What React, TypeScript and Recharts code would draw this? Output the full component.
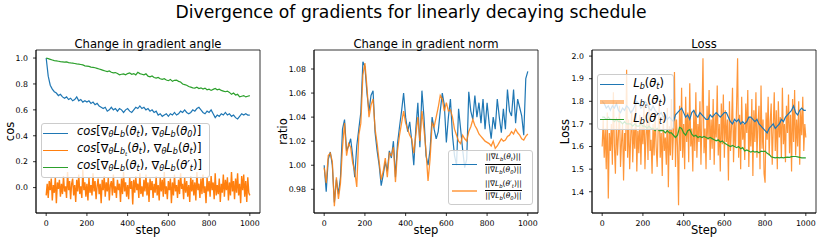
import React from 'react';
import { LineChart, Line, XAxis, YAxis, Legend, ReferenceArea } from 'recharts';

const FONT = '"DejaVu Sans", Verdana, sans-serif';
const BLUE = '#1f77b4';
const ORANGE = '#ff7f0e';
const GREEN = '#2ca02c';

const STEP_TICKS = [0, 200, 400, 600, 800, 1000];
const COS_TICKS = [0, 0.2, 0.4, 0.6, 0.8, 1.0];
const RATIO_TICKS = [0.98, 1.0, 1.02, 1.04, 1.06, 1.08];
const LOSS_TICKS = [1.4, 1.5, 1.6, 1.7, 1.8, 1.9, 2.0];

// cos to initial gradient, one value every 10 steps
const ANGLE_INIT = [
  1.00, 0.86, 0.79, 0.76, 0.74, 0.73, 0.71, 0.72, 0.70, 0.69,
  0.70, 0.68, 0.69, 0.67, 0.68, 0.70, 0.67, 0.68, 0.66, 0.67,
  0.66, 0.67, 0.65, 0.66, 0.64, 0.65, 0.63, 0.62, 0.61, 0.62,
  0.59, 0.60, 0.62, 0.60, 0.61, 0.59, 0.61, 0.60, 0.58, 0.60,
  0.61, 0.59, 0.58, 0.60, 0.62, 0.61, 0.63, 0.61, 0.62, 0.60,
  0.61, 0.59, 0.60, 0.58, 0.59, 0.56, 0.57, 0.55, 0.56, 0.57,
  0.55, 0.57, 0.56, 0.58, 0.56, 0.57, 0.59, 0.58, 0.60, 0.58,
  0.57, 0.58, 0.60, 0.59, 0.61, 0.62, 0.60, 0.58, 0.57, 0.59,
  0.58, 0.60, 0.57, 0.54, 0.56, 0.55, 0.57, 0.56, 0.58, 0.56,
  0.57, 0.55, 0.56, 0.54, 0.53, 0.55, 0.57, 0.56, 0.57, 0.56,
  0.56,
];

// cos between batch gradients, one value every 5 steps
const ANGLE_BATCH = [
  -0.06, 0.03, -0.08, 0.05, -0.02, 0.07, -0.10, 0.02, -0.04, 0.08,
  -0.12, 0.04, -0.01, 0.06, -0.07, 0.03, -0.05, 0.09, -0.03, 0.01,
  -0.08, 0.12, -0.02, 0.05, -0.09, 0.03, 0.07, -0.06, 0.02, -0.11,
  0.06, -0.03, 0.10, -0.05, 0.01, -0.08, 0.14, -0.02, 0.04, -0.07,
  0.03, -0.10, 0.08, -0.04, 0.02, -0.06, 0.11, -0.03, 0.05, -0.09,
  0.01, 0.07, -0.05, 0.03, -0.12, 0.06, -0.02, 0.09, -0.07, 0.04,
  -0.03, 0.08, -0.10, 0.02, 0.05, -0.06, 0.10, -0.04, 0.01, -0.08,
  0.06, -0.02, 0.03, -0.11, 0.07, -0.05, 0.12, -0.03, 0.04, -0.07,
  0.02, -0.09, 0.08, -0.01, 0.05, -0.13, 0.06, -0.04, 0.09, -0.02,
  0.03, -0.08, 0.11, -0.05, 0.01, -0.07, 0.06, -0.03, 0.10, -0.06,
  0.04, -0.11, 0.07, -0.02, 0.05, -0.08, 0.03, -0.04, 0.09, -0.06,
  0.02, -0.10, 0.08, -0.03, 0.06, -0.07, 0.12, -0.05, 0.01, -0.09,
  0.05, -0.02, 0.07, -0.12, 0.04, -0.06, 0.10, -0.03, 0.02, -0.08,
  0.06, -0.05, 0.11, -0.01, 0.03, -0.09, 0.08, -0.04, 0.05, -0.07,
  0.02, -0.11, 0.09, -0.03, 0.06, -0.06, 0.04, -0.10, 0.12, -0.02,
  0.03, -0.08, 0.07, -0.05, 0.10, -0.04, 0.01, -0.12, 0.08, -0.03,
  0.05, -0.07, 0.09, -0.02, 0.04, -0.09, 0.11, -0.06, 0.02, -0.05,
  0.07, -0.11, 0.03, -0.04, 0.10, -0.07, 0.06, -0.02, 0.08, -0.10,
  0.04, -0.06, 0.12, -0.03, 0.05, -0.09, 0.07, -0.04, 0.11, -0.06,
  0.03, -0.12, 0.09, -0.02, 0.10, -0.07, 0.05, -0.11, 0.08, -0.04,
  -0.06,
];

// cos to the theta' gradient, every 10 steps
const ANGLE_PRIME = [
  1.000, 0.995, 0.990, 0.985, 0.980, 0.978, 0.975, 0.972, 0.970, 0.968,
  0.970, 0.965, 0.962, 0.960, 0.958, 0.955, 0.953, 0.950, 0.947, 0.940,
  0.938, 0.935, 0.930, 0.928, 0.925, 0.920, 0.915, 0.910, 0.905, 0.900,
  0.895, 0.900, 0.890, 0.885, 0.888, 0.880, 0.870, 0.875, 0.878, 0.870,
  0.880, 0.885, 0.875, 0.880, 0.870, 0.890, 0.880, 0.875, 0.870, 0.878,
  0.860, 0.855, 0.862, 0.850, 0.845, 0.850, 0.840, 0.835, 0.840, 0.830,
  0.825, 0.835, 0.820, 0.828, 0.830, 0.820, 0.815, 0.800, 0.795, 0.790,
  0.780, 0.775, 0.770, 0.768, 0.775, 0.765, 0.770, 0.760, 0.768, 0.755,
  0.760, 0.750, 0.758, 0.765, 0.755, 0.760, 0.750, 0.745, 0.740, 0.745,
  0.735, 0.720, 0.730, 0.715, 0.720, 0.700, 0.705, 0.710, 0.700, 0.705,
  0.710,
];

// norm ratios, every 10 steps
const NORM_TRUE = [
  1.000, 0.978, 1.005, 1.011, 1.000, 0.969, 0.988, 0.976, 0.990, 1.030,
  1.038, 1.012, 1.016, 1.022, 1.008, 0.990, 1.016, 1.030, 1.044, 1.086,
  1.082, 1.060, 1.045, 1.058, 1.062, 1.027, 1.012, 1.000, 0.983, 0.992,
  1.003, 0.995, 1.012, 1.006, 1.020, 0.990, 1.018, 1.032, 1.045, 1.060,
  1.040, 1.028, 1.036, 1.020, 1.000, 1.030, 1.052, 1.015, 1.062, 1.040,
  1.008, 1.000, 1.013, 1.040, 1.030, 1.022, 1.028, 1.045, 1.060, 1.050,
  1.019, 1.040, 1.055, 1.025, 1.008, 1.000, 1.047, 1.030, 1.013, 0.998,
  1.005, 1.061, 1.045, 1.038, 1.058, 1.040, 1.052, 1.035, 1.055, 1.030,
  1.052, 1.035, 1.022, 1.040, 1.030, 1.055, 1.040, 1.027, 1.047, 1.030,
  1.063, 1.045, 1.041, 1.063, 1.035, 1.055, 1.048, 1.041, 1.025, 1.072,
  1.078,
];

const NORM_PRIME = [
  0.998, 0.985, 1.008, 1.010, 1.003, 0.966, 0.990, 0.972, 0.985, 1.015,
  1.035, 1.008, 1.018, 1.015, 1.002, 0.995, 0.982, 1.025, 1.035, 1.075,
  1.085, 1.065, 1.040, 1.050, 1.055, 1.030, 1.018, 1.003, 0.988, 0.995,
  1.006, 0.990, 1.010, 1.008, 1.015, 0.986, 1.012, 1.025, 1.035, 1.045,
  1.035, 1.030, 1.025, 1.022, 1.010, 1.025, 1.040, 1.020, 1.045, 1.030,
  1.012, 0.987, 1.005, 1.035, 1.032, 1.040, 1.048, 1.058, 1.055, 1.045,
  1.052, 1.045, 1.046, 1.040, 1.030, 1.025, 1.020, 1.018, 1.025, 1.022,
  1.020, 1.028, 1.032, 1.038, 1.033, 1.030, 1.026, 1.024, 1.022, 1.020,
  1.019, 1.018, 1.016, 1.020, 1.014, 1.016, 1.019, 1.022, 1.020, 1.021,
  1.024, 1.025, 1.028, 1.026, 1.030, 1.027, 1.025, 1.022, 1.021, 1.024,
  1.026,
];

// losses
const LOSS_FULL = [
  1.80, 1.79, 1.77, 1.78, 1.76, 1.78, 1.77, 1.79, 1.76, 1.75,
  1.77, 1.76, 1.78, 1.77, 1.75, 1.76, 1.78, 1.80, 1.79, 1.77,
  1.78, 1.80, 1.79, 1.77, 1.76, 1.78, 1.76, 1.75, 1.74, 1.75,
  1.73, 1.74, 1.72, 1.73, 1.72, 1.71, 1.74, 1.75, 1.76, 1.77,
  1.75, 1.73, 1.74, 1.72, 1.75, 1.76, 1.74, 1.73, 1.75, 1.74,
  1.73, 1.72, 1.72, 1.74, 1.73, 1.74, 1.75, 1.74, 1.73, 1.74,
  1.75, 1.75, 1.73, 1.71, 1.70, 1.72, 1.71, 1.72, 1.70, 1.71,
  1.70, 1.71, 1.73, 1.73, 1.72, 1.71, 1.72, 1.70, 1.69, 1.68,
  1.67, 1.66, 1.68, 1.69, 1.70, 1.68, 1.69, 1.70, 1.72, 1.71,
  1.73, 1.74, 1.75, 1.76, 1.78, 1.75, 1.74, 1.76, 1.77, 1.76,
  1.76,
];

// every 5 steps
const LOSS_BATCH = [
  1.60, 1.72, 1.55, 1.68, 1.50, 1.75, 1.37, 1.66, 1.58, 1.70,
  1.52, 1.84, 1.60, 1.48, 1.73, 1.56, 1.65, 1.78, 1.51, 1.62,
  1.70, 1.45, 1.66, 1.58, 1.94, 1.55, 1.72, 1.50, 1.64, 1.76,
  1.53, 1.68, 1.59, 1.80, 1.49, 1.67, 1.57, 1.74, 1.52, 1.69,
  1.61, 1.78, 1.50, 1.65, 1.72, 1.54, 1.82, 1.58, 1.63, 1.48,
  1.70, 1.56, 1.75, 1.60, 1.51, 1.68, 1.79, 1.55, 1.66, 1.47,
  1.73, 1.58, 1.64, 1.52, 1.77, 1.42, 1.69, 1.56, 1.81, 1.54,
  1.66, 1.93, 1.51, 1.72, 1.60, 1.34, 1.78, 1.58, 1.86, 1.55,
  1.70, 1.50, 1.82, 1.62, 1.75, 1.53, 1.88, 1.60, 1.68, 1.49,
  1.76, 1.58, 1.84, 1.55, 1.70, 1.62, 1.80, 1.52, 1.73, 1.99,
  1.57, 1.68, 1.50, 1.78, 1.63, 1.85, 1.54, 1.72, 1.59, 1.81,
  1.52, 1.74, 1.64, 1.87, 1.56, 1.70, 1.49, 1.79, 1.61, 1.83,
  1.55, 1.76, 1.62, 1.72, 1.45, 1.80, 1.58, 1.69, 1.86, 1.53,
  1.71, 1.60, 1.78, 1.99, 1.55, 1.74, 1.50, 1.82, 1.63, 1.70,
  1.54, 1.79, 1.66, 1.85, 1.51, 1.73, 1.60, 1.81, 1.47, 1.76,
  1.62, 1.84, 1.55, 1.70, 1.78, 1.50, 1.87, 1.59, 1.72, 1.48,
  1.44, 1.75, 1.63, 1.82, 1.56, 1.71, 1.79, 1.52, 1.68, 1.84,
  1.58, 1.76, 1.50, 1.80, 1.64, 1.73, 1.55, 1.86, 1.61, 1.70,
  1.53, 1.78, 1.66, 1.83, 1.57, 1.74, 1.49, 1.81, 1.62, 1.85,
  1.56, 1.72, 1.60, 1.80, 1.52, 1.76, 1.65, 1.82, 1.58, 1.70,
  1.64,
];

const LOSS_PRIME = [
  1.730, 1.730, 1.720, 1.730, 1.720, 1.720, 1.710, 1.720, 1.710, 1.710,
  1.700, 1.710, 1.700, 1.700, 1.700, 1.690, 1.700, 1.690, 1.690, 1.700,
  1.690, 1.690, 1.680, 1.690, 1.680, 1.680, 1.670, 1.680, 1.670, 1.670,
  1.670, 1.660, 1.670, 1.660, 1.660, 1.650, 1.640, 1.650, 1.685, 1.680,
  1.660, 1.650, 1.670, 1.675, 1.655, 1.645, 1.650, 1.640, 1.645, 1.640,
  1.645, 1.640, 1.635, 1.640, 1.635, 1.630, 1.625, 1.630, 1.620, 1.625,
  1.615, 1.610, 1.605, 1.600, 1.605, 1.600, 1.595, 1.600, 1.590, 1.595,
  1.580, 1.585, 1.580, 1.575, 1.580, 1.575, 1.578, 1.572, 1.580, 1.578,
  1.580, 1.570, 1.565, 1.555, 1.552, 1.550, 1.552, 1.550, 1.552, 1.550,
  1.552, 1.553, 1.552, 1.555, 1.556, 1.556, 1.554, 1.552, 1.550, 1.550,
  1.550,
];

type Pt = { step: number; v: number };
const pts = (vals: number[], every: number): Pt[] => vals.map((v, i) => ({ step: i * every, v }));

type Series = { name: string; data: Pt[]; color: string; width?: number; opacity?: number };

const I = ({ children }: { children: React.ReactNode }) => <span style={{ fontStyle: 'italic' }}>{children}</span>;
const Sub = ({ children }: { children: React.ReactNode }) => (
  <span style={{ fontSize: '0.7em', verticalAlign: '-0.3em', fontStyle: 'italic' }}>{children}</span>
);

const Box = ({ children, padY }: { children: React.ReactNode; padY: number }) => (
  <div
    style={{
      boxSizing: 'border-box',
      width: '100%',
      background: 'rgba(255,255,255,0.8)',
      border: '1px solid #cccccc',
      borderRadius: 3,
      padding: `${padY}px 0`,
      fontFamily: FONT,
      color: '#000',
    }}
  >
    {children}
  </div>
);

const Row = (p: {
  color: string; h: number; lineLeft: number; lineLen: number; gap: number;
  lw?: number; op?: number; fontSize: number; children: React.ReactNode;
}) => (
  <div style={{ display: 'flex', alignItems: 'center', height: p.h, whiteSpace: 'nowrap', fontSize: p.fontSize, lineHeight: 1 }}>
    <span style={{ display: 'inline-block', marginLeft: p.lineLeft, width: p.lineLen, borderTop: `${p.lw ?? 1.5}px solid ${p.color}`, opacity: p.op ?? 1 }} />
    <span style={{ marginLeft: p.gap }}>{p.children}</span>
  </div>
);

const Frac = ({ top, bottom }: { top: React.ReactNode; bottom: React.ReactNode }) => (
  <span style={{ display: 'inline-flex', flexDirection: 'column', alignItems: 'center', fontSize: 7.5, lineHeight: '9px' }}>
    <span>{top}</span>
    <span style={{ alignSelf: 'stretch', borderTop: '0.7px solid #000' }} />
    <span>{bottom}</span>
  </span>
);

const gradL = (
  <>∇<Sub>θ</Sub><I>L</I><Sub>b</Sub></>
);

const AngleLegend = () => (
  <Box padY={1}>
    <Row color={BLUE} h={17} lineLeft={1} lineLen={25.6} gap={8.7} fontSize={11.5}>
      <I>cos</I>[{gradL}(<I>θ</I><Sub>t</Sub>), {gradL}(<I>θ</I><Sub>0</Sub>)]
    </Row>
    <Row color={ORANGE} h={17} lineLeft={1} lineLen={25.6} gap={8.7} fontSize={11.5}>
      <I>cos</I>[∇<Sub>θ</Sub><I>L</I><Sub>b<Sub>t</Sub></Sub>(<I>θ</I><Sub>t</Sub>), {gradL}(<I>θ</I><Sub>t</Sub>)]
    </Row>
    <Row color={GREEN} h={17} lineLeft={1} lineLen={25.6} gap={8.7} fontSize={11.5}>
      <I>cos</I>[{gradL}(<I>θ</I><Sub>t</Sub>), {gradL}(<I>θ′</I><Sub>t</Sub>)]
    </Row>
  </Box>
);

const normOf = (arg: React.ReactNode) => (
  <>||∇<I>L</I><Sub>b</Sub>({arg})||</>
);

const NormLegend = () => (
  <Box padY={0}>
    <Row color={BLUE} h={26.5} lineLeft={3} lineLen={25} gap={8.3} fontSize={7.5}>
      <Frac top={normOf(<><I>θ</I><Sub>t</Sub></>)} bottom={normOf(<><I>θ</I><Sub>0</Sub></>)} />
    </Row>
    <Row color={ORANGE} h={26.5} lineLeft={3} lineLen={25} gap={8.3} fontSize={7.5} lw={2} op={0.6}>
      <Frac top={normOf(<><I>θ′</I><Sub>t</Sub></>)} bottom={normOf(<><I>θ</I><Sub>0</Sub></>)} />
    </Row>
  </Box>
);

const LossLegend = () => (
  <Box padY={0.5}>
    <Row color={BLUE} h={17.7} lineLeft={2.3} lineLen={24} gap={9.3} fontSize={11.5}>
      <I>L</I><Sub>b</Sub>(<I>θ</I><Sub>t</Sub>)
    </Row>
    <Row color={ORANGE} h={17.7} lineLeft={2.3} lineLen={24} gap={9.3} fontSize={11.5} lw={4} op={0.5}>
      <I>L</I><Sub>b<Sub>t</Sub></Sub>(<I>θ</I><Sub>t</Sub>)
    </Row>
    <Row color={GREEN} h={17.7} lineLeft={2.3} lineLen={24} gap={9.3} fontSize={11.5}>
      <I>L</I><Sub>b</Sub>(<I>θ′</I><Sub>t</Sub>)
    </Row>
  </Box>
);

const xTitle = (text: string) => (props: any) => {
  const vb = props.viewBox;
  return (
    <text x={vb.x + vb.width / 2} y={vb.y + 20.5} textAnchor="middle" fontSize={11.5} fontFamily={FONT} fill="#000">
      {text}
    </text>
  );
};

const yTitle = (text: string, gap: number) => (props: any) => {
  const vb = props.viewBox;
  const x = vb.x + vb.width - gap;
  const y = vb.y + vb.height / 2;
  return (
    <text x={x} y={y} transform={`rotate(-90 ${x} ${y})`} textAnchor="middle" fontSize={11.5} fontFamily={FONT} fill="#000">
      {text}
    </text>
  );
};

const TICK = { fontSize: 7.8, fill: '#000', fontFamily: FONT };
const AXIS = { stroke: '#000', strokeWidth: 0.8 };
// each chart box: 10px spare on the left, 36px y axis, 224px plot, 6px right
const CHART_W = 276;
const PAD_L = 10;
const X_DOMAIN: [number, number] = [-50, 1050];

type PanelProps = {
  left: number;
  title: string;
  yDomain: [number, number];
  yTicks: number[];
  yDigits: number;
  yLabel: string;
  yLabelGap: number;
  xLabel: string;
  series: Series[];
  legend: () => React.ReactNode;
  legendPos: { left: number; top: number; width: number };
};

function Panel(p: PanelProps) {
  return (
    <div style={{ position: 'absolute', left: p.left, top: 0, width: CHART_W, height: 243 }}>
      <div
        style={{
          position: 'absolute', left: PAD_L + 36, width: 224, top: 37, lineHeight: '14px',
          textAlign: 'center', fontSize: 11.6, fontFamily: FONT, color: '#000', whiteSpace: 'nowrap',
        }}
      >
        {p.title}
      </div>
      <LineChart width={CHART_W} height={243} margin={{ top: 50, right: 6, bottom: 0, left: PAD_L }}>
        <XAxis
          xAxisId="b" dataKey="step" type="number" domain={X_DOMAIN} ticks={STEP_TICKS}
          allowDataOverflow height={30} tickSize={3} tickMargin={4}
          axisLine={AXIS} tickLine={AXIS} tick={TICK} label={xTitle(p.xLabel)}
        />
        <YAxis
          yAxisId="l" type="number" domain={p.yDomain} ticks={p.yTicks} allowDataOverflow
          width={36} tickSize={3} tickMargin={5} axisLine={AXIS} tickLine={AXIS} tick={TICK}
          tickFormatter={(v: number) => v.toFixed(p.yDigits)} label={yTitle(p.yLabel, p.yLabelGap)}
        />
        {p.series.map((s) => (
          <Line
            key={s.name} name={s.name} xAxisId="b" yAxisId="l" data={s.data} dataKey="v"
            type="linear" dot={false} activeDot={false} stroke={s.color}
            strokeWidth={s.width ?? 1.2} strokeOpacity={s.opacity ?? 1} isAnimationActive={false}
          />
        ))}
        <ReferenceArea
          xAxisId="b" yAxisId="l" x1={X_DOMAIN[0]} x2={X_DOMAIN[1]} y1={p.yDomain[0]} y2={p.yDomain[1]}
          fill="none" fillOpacity={0} stroke="#000" strokeWidth={0.8} ifOverflow="visible"
        />
        <Legend
          layout="horizontal" align="center" verticalAlign="middle" content={p.legend}
          wrapperStyle={{ left: p.legendPos.left + PAD_L, top: p.legendPos.top, width: p.legendPos.width, height: 'auto' }}
        />
      </LineChart>
    </div>
  );
}

export default function App() {
  return (
    <div style={{ position: 'absolute', left: 0, top: 0, width: 822, height: 243, background: '#fff', overflow: 'hidden' }}>
      <div
        style={{
          position: 'absolute', left: 0, width: 822, top: 2, lineHeight: '20px', textAlign: 'center',
          fontSize: 17.2, fontFamily: FONT, color: '#000',
        }}
      >
        Divergence of gradients for linearly decaying schedule
      </div>
      <Panel
        left={-PAD_L}
        title="Change in gradient angle"
        yDomain={[-0.196, 1.062]}
        yTicks={COS_TICKS}
        yDigits={1}
        yLabel="cos"
        yLabelGap={22}
        xLabel="step"
        series={[
          { name: 'init', data: pts(ANGLE_INIT, 10), color: BLUE },
          { name: 'batch', data: pts(ANGLE_BATCH, 5), color: ORANGE, width: 1.4 },
          { name: 'prime', data: pts(ANGLE_PRIME, 10), color: GREEN },
        ]}
        legend={AngleLegend}
        legendPos={{ left: 40.7, top: 122.7, width: 169 }}
      />
      <Panel
        left={278 - PAD_L}
        title="Change in gradient norm"
        yDomain={[0.9603, 1.0958]}
        yTicks={RATIO_TICKS}
        yDigits={2}
        yLabel="ratio"
        yLabelGap={27}
        xLabel="step"
        series={[
          { name: 'true', data: pts(NORM_TRUE, 10), color: BLUE, width: 1.2 },
          { name: 'prime', data: pts(NORM_PRIME, 10), color: ORANGE, width: 1.3, opacity: 0.85 },
        ]}
        legend={NormLegend}
        legendPos={{ left: 169.7, top: 150, width: 85 }}
      />
      <Panel
        left={556 - PAD_L}
        title="Loss"
        yDomain={[1.306, 2.027]}
        yTicks={LOSS_TICKS}
        yDigits={1}
        yLabel="Loss"
        yLabelGap={23}
        xLabel="Step"
        series={[
          { name: 'batch', data: pts(LOSS_BATCH, 5), color: ORANGE, width: 1.2, opacity: 0.82 },
          { name: 'full', data: pts(LOSS_FULL, 10), color: BLUE, width: 1.2 },
          { name: 'prime', data: pts(LOSS_PRIME, 10), color: GREEN, width: 1.2 },
        ]}
        legend={LossLegend}
        legendPos={{ left: 40.7, top: 74, width: 77 }}
      />
    </div>
  );
}
